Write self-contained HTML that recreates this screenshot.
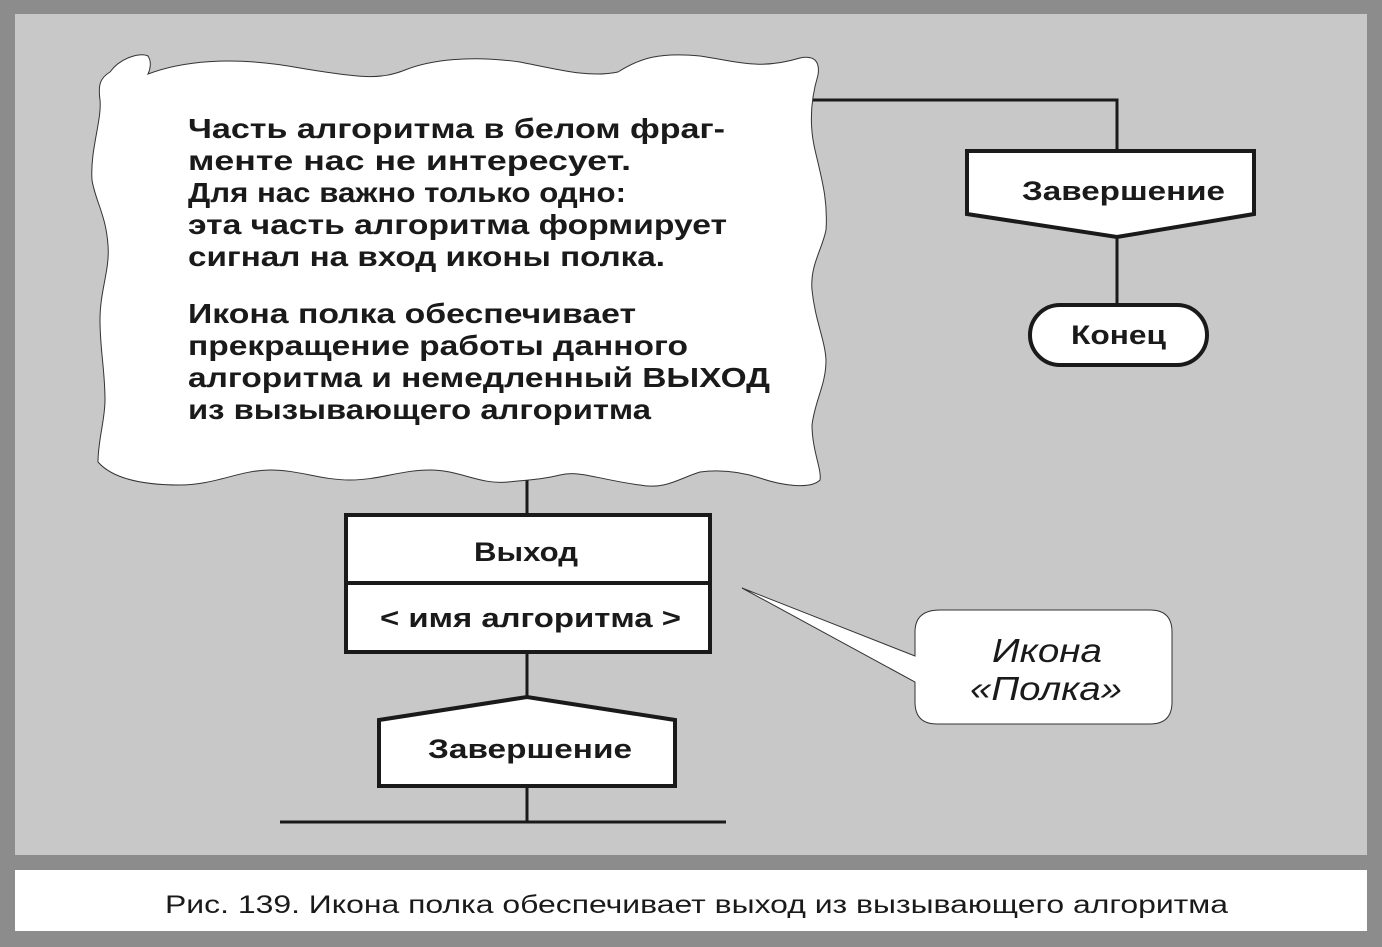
<!DOCTYPE html>
<html><head><meta charset="utf-8"><style>
html,body{margin:0;padding:0;background:#8c8c8c;}
svg{display:block;}
text{font-family:"Liberation Sans",sans-serif;fill:#1a1a1a;}
</style></head><body>
<svg width="1382" height="947" viewBox="0 0 1382 947" xmlns="http://www.w3.org/2000/svg">
<rect x="0" y="0" width="1382" height="947" fill="#8c8c8c"/>
<rect x="15" y="14" width="1352" height="841" fill="#c8c8c8"/>
<rect x="15" y="870" width="1352" height="61" fill="#fff"/>
<text x="165" y="913" font-size="25" textLength="1063" lengthAdjust="spacingAndGlyphs">Рис. 139. Икона полка обеспечивает выход из вызывающего алгоритма</text>

<g stroke="#1a1a1a" stroke-width="3" fill="none">
<polyline points="810,100 1117,100 1117,152"/>
<line x1="1117" y1="236" x2="1117" y2="306"/>
<line x1="527" y1="470" x2="527" y2="515"/>
<line x1="527" y1="652" x2="527" y2="698"/>
<line x1="527" y1="786" x2="527" y2="822"/>
<line x1="280" y1="822" x2="726" y2="822"/>
</g>

<path d="M110,72 C120,58 140,52 148,56 C152,62 150,70 148,74 C180,62 230,55 300,68 C360,78 380,80 405,70 C430,60 470,55 520,62 C560,70 590,78 618,72 C640,58 660,52 700,56 C740,62 760,70 800,58 C815,55 820,62 818,75 C812,95 808,120 815,150 C822,180 828,200 826,230 C822,250 810,265 812,290 C815,320 825,340 826,360 C826,385 815,400 812,425 C812,450 822,470 820,480 C810,490 780,485 760,478 C735,470 715,470 700,472 C680,478 665,490 640,485 C600,480 580,470 560,475 C540,480 525,480 508,482 C480,485 460,470 430,470 C400,470 380,480 350,480 C320,480 300,470 270,470 C240,470 215,485 180,485 C140,485 112,478 98,462 C98,440 105,420 105,400 C105,370 100,350 100,320 C100,290 110,270 108,245 C106,215 95,200 92,180 C90,150 102,120 100,100 C98,85 100,78 110,72 Z" fill="#fff" stroke="#333" stroke-width="1"/>

<g font-size="28" font-weight="bold">
<text x="188" y="138" textLength="537" lengthAdjust="spacingAndGlyphs">Часть алгоритма в белом фраг-</text>
<text x="188" y="170" textLength="443" lengthAdjust="spacingAndGlyphs">менте нас не интересует.</text>
<text x="188" y="202" textLength="438" lengthAdjust="spacingAndGlyphs">Для нас важно только одно:</text>
<text x="188" y="234" textLength="539" lengthAdjust="spacingAndGlyphs">эта часть алгоритма формирует</text>
<text x="188" y="266" textLength="477" lengthAdjust="spacingAndGlyphs">сигнал на вход иконы полка.</text>
<text x="188" y="323" textLength="448" lengthAdjust="spacingAndGlyphs">Икона полка обеспечивает</text>
<text x="188" y="355" textLength="500" lengthAdjust="spacingAndGlyphs">прекращение работы данного</text>
<text x="188" y="387" textLength="582" lengthAdjust="spacingAndGlyphs">алгоритма и немедленный ВЫХОД</text>
<text x="188" y="419" textLength="463" lengthAdjust="spacingAndGlyphs">из вызывающего алгоритма</text>
</g>

<polygon points="967,151 1254,151 1254,214 1117,237 967,214" fill="#fff" stroke="#1a1a1a" stroke-width="4"/>
<text x="1022" y="200" font-size="27" font-weight="bold" textLength="203" lengthAdjust="spacingAndGlyphs">Завершение</text>
<rect x="1030" y="305" width="177" height="60" rx="30" fill="#fff" stroke="#1a1a1a" stroke-width="4"/>
<text x="1071" y="344" font-size="27" font-weight="bold" textLength="95" lengthAdjust="spacingAndGlyphs">Конец</text>

<rect x="346" y="515" width="364" height="137" fill="#fff" stroke="#1a1a1a" stroke-width="4"/>
<line x1="346" y1="583" x2="710" y2="583" stroke="#1a1a1a" stroke-width="4"/>
<text x="474" y="561" font-size="27" font-weight="bold" textLength="104" lengthAdjust="spacingAndGlyphs">Выход</text>
<text x="380" y="627" font-size="27" font-weight="bold" textLength="301" lengthAdjust="spacingAndGlyphs">&lt; имя алгоритма &gt;</text>

<polygon points="379,720 527,697 675,720 675,786 379,786" fill="#fff" stroke="#1a1a1a" stroke-width="4"/>
<text x="428" y="758" font-size="27" font-weight="bold" textLength="204" lengthAdjust="spacingAndGlyphs">Завершение</text>

<path d="M940,610 L1150,610 Q1172,610 1172,632 L1172,702 Q1172,724 1150,724 L937,724 Q915,724 915,702 L915,682 L742,588 L915,656 L915,632 Q915,610 940,610 Z" fill="#fff" stroke="#333" stroke-width="1"/>
<text x="992" y="662" font-size="33" font-style="italic" textLength="110" lengthAdjust="spacingAndGlyphs">Икона</text>
<text x="970" y="700" font-size="33" font-style="italic" textLength="152" lengthAdjust="spacingAndGlyphs">«Полка»</text>
</svg>
</body></html>
